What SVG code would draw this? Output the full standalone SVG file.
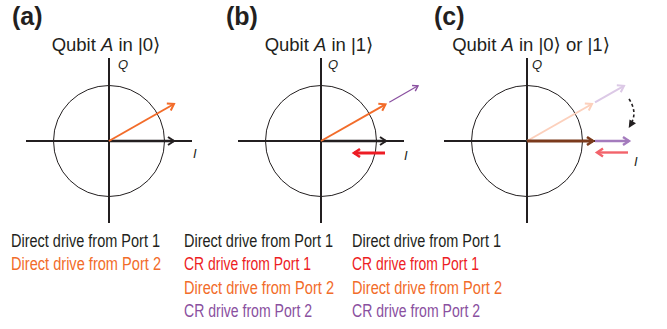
<svg xmlns="http://www.w3.org/2000/svg" width="667" height="329" viewBox="0 0 667 329">
<style>
.ax{stroke:#231f20;stroke-width:2;fill:none}
.circ{stroke:#231f20;stroke-width:1;fill:none}
.panel{font-family:"Liberation Sans",Arial,sans-serif;font-weight:bold;font-size:25px;fill:#231f20}
.title{font-family:"Liberation Sans","DejaVu Sans",sans-serif;font-size:18.5px;fill:#231f20}
.axl{font-family:"Liberation Sans",Arial,sans-serif;font-style:italic;font-size:13px;fill:#231f20}
.leg{font-family:"Liberation Sans",Arial,sans-serif;font-size:17.5px}
</style>
<defs>
<marker id="hk" markerUnits="userSpaceOnUse" viewBox="-10 -10 20 20" markerWidth="20" markerHeight="20" refX="0" refY="0" orient="auto" overflow="visible"><path d="M-6,-4 L0,0 L-6,4" fill="none" stroke="#231f20" stroke-width="2"/></marker>
<marker id="ho" markerUnits="userSpaceOnUse" viewBox="-10 -10 20 20" markerWidth="20" markerHeight="20" refX="0" refY="0" orient="auto" overflow="visible"><path d="M-6,-4 L0,0 L-6,4" fill="none" stroke="#f26c2a" stroke-width="2"/></marker>
<marker id="hp" markerUnits="userSpaceOnUse" viewBox="-10 -10 20 20" markerWidth="20" markerHeight="20" refX="0" refY="0" orient="auto" overflow="visible"><path d="M-5,-3.2 L0,0 L-5,3.2" fill="none" stroke="#8a50a0" stroke-width="1.4"/></marker>
<marker id="hr" markerUnits="userSpaceOnUse" viewBox="-10 -10 20 20" markerWidth="20" markerHeight="20" refX="0" refY="0" orient="auto" overflow="visible"><path d="M-6,-4 L0,0 L-6,4" fill="none" stroke="#ed1c24" stroke-width="2.6"/></marker>
<marker id="hfo" markerUnits="userSpaceOnUse" viewBox="-10 -10 20 20" markerWidth="20" markerHeight="20" refX="0" refY="0" orient="auto" overflow="visible"><path d="M-6,-4 L0,0 L-6,4" fill="none" stroke="#fcd0bc" stroke-width="2"/></marker>
<marker id="hfp" markerUnits="userSpaceOnUse" viewBox="-10 -10 20 20" markerWidth="20" markerHeight="20" refX="0" refY="0" orient="auto" overflow="visible"><path d="M-6,-4 L0,0 L-6,4" fill="none" stroke="#dcc9e6" stroke-width="2"/></marker>
<marker id="hb" markerUnits="userSpaceOnUse" viewBox="-10 -10 20 20" markerWidth="20" markerHeight="20" refX="0" refY="0" orient="auto" overflow="visible"><path d="M-6,-4 L0,0 L-6,4" fill="none" stroke="#7b3a1c" stroke-width="2.6"/></marker>
<marker id="hpc" markerUnits="userSpaceOnUse" viewBox="-10 -10 20 20" markerWidth="20" markerHeight="20" refX="0" refY="0" orient="auto" overflow="visible"><path d="M-6,-4 L0,0 L-6,4" fill="none" stroke="#a47bbd" stroke-width="2.4"/></marker>
<marker id="hrc" markerUnits="userSpaceOnUse" viewBox="-10 -10 20 20" markerWidth="20" markerHeight="20" refX="0" refY="0" orient="auto" overflow="visible"><path d="M-6,-4 L0,0 L-6,4" fill="none" stroke="#f2636b" stroke-width="2.4"/></marker>
</defs>

<g id="panel-a">
<text class="panel" x="12" y="25">(a)</text>
<text class="title" x="106" y="51" text-anchor="middle">Qubit <tspan font-style="italic">A</tspan> in |0⟩</text>
<circle class="circ" cx="109" cy="141" r="55.5"/>
<line class="ax" x1="26" y1="141" x2="192" y2="141"/>
<line class="ax" x1="109" y1="58" x2="109" y2="223"/>
<text class="axl" x="118" y="69">Q</text>
<text class="axl" x="193" y="158">I</text>
<g id="arrows-a">
<line x1="109" y1="141" x2="174" y2="141" stroke="#231f20" stroke-width="2.4" marker-end="url(#hk)"/>
<line x1="109" y1="141" x2="174" y2="104" stroke="#f26c2a" stroke-width="2" marker-end="url(#ho)"/>
</g>
</g>

<g id="panel-b">
<text class="panel" x="226" y="25">(b)</text>
<text class="title" x="319" y="51" text-anchor="middle">Qubit <tspan font-style="italic">A</tspan> in |1⟩</text>
<circle class="circ" cx="321" cy="141" r="55.5"/>
<line class="ax" x1="238" y1="141" x2="404" y2="141"/>
<line class="ax" x1="321" y1="58" x2="321" y2="223"/>
<text class="axl" x="328" y="69">Q</text>
<text class="axl" x="404" y="160">I</text>
<g id="arrows-b">
<line x1="321" y1="141" x2="386" y2="141" stroke="#231f20" stroke-width="2.4" marker-end="url(#hk)"/>
<line x1="321" y1="141" x2="385.5" y2="104.3" stroke="#f26c2a" stroke-width="2" marker-end="url(#ho)"/>
<line x1="389.3" y1="102.3" x2="418" y2="85.8" stroke="#8a50a0" stroke-width="1.2" marker-end="url(#hp)"/>
<line x1="385" y1="153" x2="354" y2="153" stroke="#ed1c24" stroke-width="3" marker-end="url(#hr)"/>
</g>
</g>

<g id="panel-c">
<text class="panel" x="434" y="25">(c)</text>
<text class="title" x="531" y="51" text-anchor="middle">Qubit <tspan font-style="italic">A</tspan> in |0⟩ or |1⟩</text>
<circle class="circ" cx="527" cy="141" r="55.5"/>
<line class="ax" x1="444" y1="141" x2="610" y2="141"/>
<line class="ax" x1="527" y1="58" x2="527" y2="223"/>
<text class="axl" x="532" y="69">Q</text>
<text class="axl" x="634" y="166">I</text>
<g id="arrows-c">
<line x1="527" y1="141" x2="592" y2="104" stroke="#fcd0bc" stroke-width="2" marker-end="url(#hfo)"/>
<line x1="595" y1="102.3" x2="624" y2="85.8" stroke="#dcc9e6" stroke-width="2" marker-end="url(#hfp)"/>
<line x1="527" y1="141" x2="593" y2="141" stroke="#7b3a1c" stroke-width="3" marker-end="url(#hb)"/>
<line x1="595" y1="141" x2="629" y2="141" stroke="#a47bbd" stroke-width="2.4" marker-end="url(#hpc)"/>
<line x1="628" y1="152.5" x2="597" y2="152.5" stroke="#f2636b" stroke-width="2.4" marker-end="url(#hrc)"/>
<path d="M629,99 Q637,111 632,122" fill="none" stroke="#231f20" stroke-width="1.6" stroke-dasharray="3,2.5"/>
<polygon points="628.7,128 629.5,119.6 636,123.2" fill="#231f20"/>
</g>
</g>

<g id="legend-a" class="leg">
<text x="11" y="246.5" fill="#231f20" textLength="149" lengthAdjust="spacingAndGlyphs">Direct drive from Port 1</text>
<text x="11" y="270" fill="#f26c2a" textLength="150" lengthAdjust="spacingAndGlyphs">Direct drive from Port 2</text>
</g>
<g id="legend-b" class="leg">
<text x="184" y="246.5" fill="#231f20" textLength="149" lengthAdjust="spacingAndGlyphs">Direct drive from Port 1</text>
<text x="184" y="270" fill="#ed1c24" textLength="127" lengthAdjust="spacingAndGlyphs">CR drive from Port 1</text>
<text x="184" y="293.5" fill="#f26c2a" textLength="150" lengthAdjust="spacingAndGlyphs">Direct drive from Port 2</text>
<text x="184" y="317" fill="#8a50a0" textLength="128" lengthAdjust="spacingAndGlyphs">CR drive from Port 2</text>
</g>
<g id="legend-c" class="leg">
<text x="352" y="246.5" fill="#231f20" textLength="149" lengthAdjust="spacingAndGlyphs">Direct drive from Port 1</text>
<text x="352" y="270" fill="#ed1c24" textLength="127" lengthAdjust="spacingAndGlyphs">CR drive from Port 1</text>
<text x="352" y="293.5" fill="#f26c2a" textLength="150" lengthAdjust="spacingAndGlyphs">Direct drive from Port 2</text>
<text x="352" y="317" fill="#8a50a0" textLength="128" lengthAdjust="spacingAndGlyphs">CR drive from Port 2</text>
</g>
</svg>
